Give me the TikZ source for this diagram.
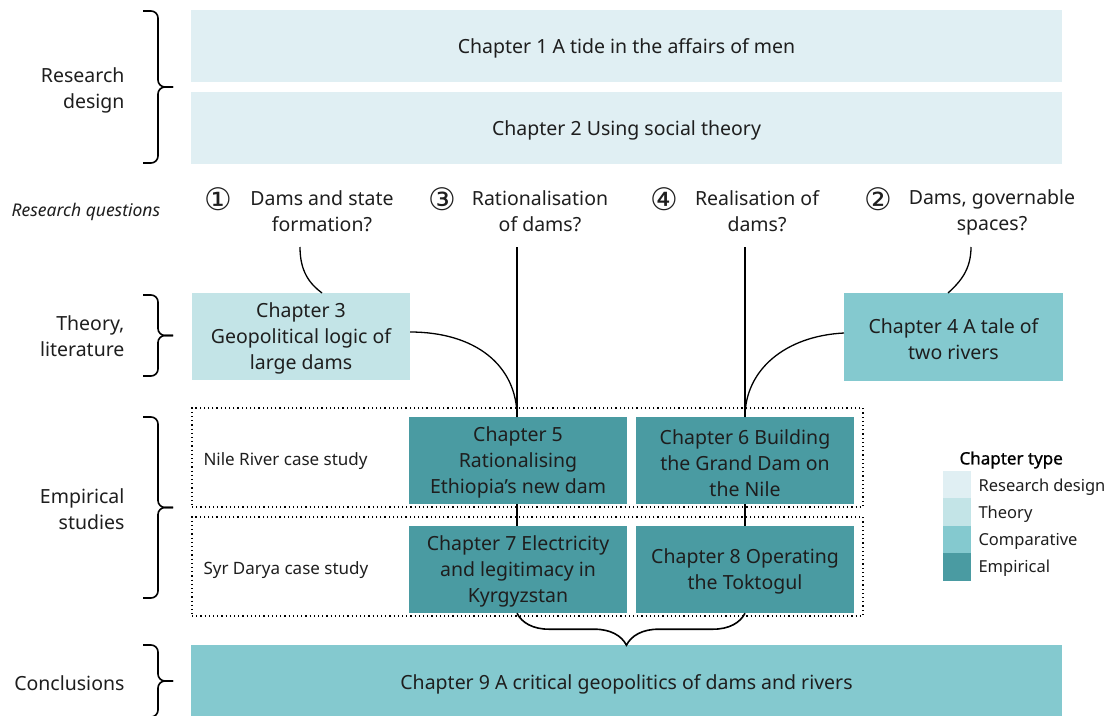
\documentclass[tikz,border=0pt]{standalone}
\usepackage{fontspec}
\setmainfont{Noto Sans}
\newfontfamily\circfont{DejaVu Sans}
\newfontfamily\semibfont{Noto Sans}[FakeBold=0.9]
\usetikzlibrary{decorations.pathreplacing}
\definecolor{rdc}{RGB}{224,239,243}
\definecolor{thc}{RGB}{195,228,231}
\definecolor{cmc}{RGB}{132,201,207}
\definecolor{emc}{RGB}{74,155,162}
\definecolor{txt}{RGB}{30,30,30}
\newcommand\dn{\rule{0pt}{19.5pt}}
\tikzset{
  every node/.style={font=\fontsize{19.5}{26}\selectfont, text=txt},
  chap/.style={draw=none, inner sep=0pt, align=center},
  small/.style={font=\fontsize{17}{20}\selectfont},
  link/.style={line width=1.3pt, draw=black},
  sbrace/.style={line width=1.6pt, rounded corners=7pt},
  groupbox/.style={draw=black, line width=1.2pt, dash pattern=on 1.2pt off 3pt, inner sep=0pt},
  swatch/.style={inner sep=0pt, minimum width=28pt, minimum height=27.5pt},
  circnum/.style={font=\circfont\fontsize{31}{26}\selectfont},
  legl/.style={anchor=west, font=\fontsize{16.5}{20}\selectfont},
}
\newcommand\sidebrace[2]{%
  \draw[sbrace] (143,#1) -- (158,#1) -- (158,{(#1+#2)/2}) -- (173,{(#1+#2)/2});
  \draw[sbrace] (143,#2) -- (158,#2) -- (158,{(#1+#2)/2}) -- (173,{(#1+#2)/2});
}
\begin{document}
\begin{tikzpicture}[x=1pt,y=-1pt]
\useasboundingbox (0,0) rectangle (1110,715);
% chapter boxes
\node[chap, fill=rdc, minimum width=871pt, minimum height=72pt] (ch1) at (626.5,46) {\dn Chapter 1 A tide in the affairs of men};
\node[chap, fill=rdc, minimum width=871pt, minimum height=72pt] (ch2) at (626.5,128) {\dn Chapter 2 Using social theory};
\node[chap, fill=thc, minimum width=218pt, minimum height=87pt] (ch3) at (301,336.5) {\dn Chapter 3\\Geopolitical logic of\\large dams};
\node[chap, fill=cmc, minimum width=219pt, minimum height=88pt] (ch4) at (953.5,337) {\dn Chapter 4 A tale of\\two rivers};
% group boxes
\node[groupbox, minimum width=671pt, minimum height=99pt] (nile) at (527.5,457.5) {};
\node[groupbox, minimum width=671pt, minimum height=99pt] (syr) at (527.5,566.5) {};
\node[small, anchor=west] (nilelab) at (200,461) {Nile River case study};
\node[small, anchor=west] (syrlab) at (200,570) {Syr Darya case study};
\node[chap, fill=emc, minimum width=218pt, minimum height=87pt] (ch5) at (518,460.5) {\dn Chapter 5\\Rationalising\\Ethiopia’s new dam};
\node[chap, fill=emc, minimum width=218pt, minimum height=87pt] (ch6) at (745,460.5) {\dn Chapter 6 Building\\the Grand Dam on\\the Nile};
\node[chap, fill=emc, minimum width=218pt, minimum height=87pt] (ch7) at (518,569.5) {\dn Chapter 7 Electricity\\and legitimacy in\\Kyrgyzstan};
\node[chap, fill=emc, minimum width=218pt, minimum height=87pt] (ch8) at (745,569.5) {\dn Chapter 8 Operating\\the Toktogul};
\node[chap, fill=cmc, minimum width=871pt, minimum height=74pt] (ch9) at (626.5,682) {\dn Chapter 9 A critical geopolitics of dams and rivers};
% left labels
\node[align=right, anchor=east] (lrd) at (128,90) {Research\\design};
\node[anchor=west, font=\fontsize{17.5}{20}\selectfont\itshape] (lrq) at (8,212) {Research questions};
\node[align=right, anchor=east] (lth) at (128,336.5) {Theory,\\literature};
\node[align=right, anchor=east] (lem) at (128,509) {Empirical\\studies};
\node[anchor=east] (lco) at (128,683) {Conclusions};
% left braces
\sidebrace{11}{163}
\sidebrace{295}{376}
\sidebrace{417}{598}
\sidebrace{645}{717}
% research questions
\node[circnum] (n1) at (218,199) {①};
\node[align=center] (q1) at (322,211.5) {Dams and state\\formation?};
\node[circnum] (n3) at (442,199) {③};
\node[align=center] (q3) at (540,211.5) {Rationalisation\\of dams?};
\node[circnum] (n4) at (664,199) {④};
\node[align=center] (q4) at (757,211.5) {Realisation of\\dams?};
\node[circnum] (n2) at (878,199) {②};
\node[align=center] (q2) at (992,212.5) {Dams, governable\\spaces?};
\coordinate (q1b) at (300,247);
\coordinate (q3b) at (517,247);
\coordinate (q4b) at (745,247);
\coordinate (q2b) at (971,247);
\coordinate (c3e) at (410,332);
\coordinate (c4w) at (844,333);
\coordinate (c3t) at (322,293);
\coordinate (c4t) at (948,293);
\coordinate (c5t) at (517,417);
\coordinate (c6t) at (745,417);
% connectors
\draw[link] (q1b) .. controls (300,272) and (310,284) .. (c3t);
\draw[link] (q2b) .. controls (971,270) and (960,282) .. (c4t);
\draw[link] (q3b) -- (c5t);
\draw[link] (q4b) -- (c6t);
\draw[link] (c3e) .. controls (475,332) and (517,365) .. (c5t);
\draw[link] (c4w) .. controls (785,336) and (745,370) .. (c6t);
\draw[link] (ch5.south -| c5t) -- (ch7.north -| c5t);
\draw[link] (ch6.south -| c6t) -- (ch8.north -| c6t);
\draw[decorate, decoration={brace, amplitude=32pt, mirror, aspect=0.48}, line width=1.6pt] (ch7.south -| c5t) -- (ch8.south -| c6t);
% legend
\node[anchor=west, font=\semibfont\fontsize{17}{20}\selectfont, text=black] (legt) at (956,460) {Chapter type};
\node[swatch, fill=rdc] (s1) at (957,484.5) {};
\node[swatch, fill=thc] (s2) at (957,512) {};
\node[swatch, fill=cmc] (s3) at (957,539.5) {};
\node[swatch, fill=emc] (s4) at (957,567) {};
\node[legl] (l1) at (975,487) {Research design};
\node[legl] (l2) at (975,514) {Theory};
\node[legl] (l3) at (975,541) {Comparative};
\node[legl] (l4) at (975,568) {Empirical};
\end{tikzpicture}
\end{document}
